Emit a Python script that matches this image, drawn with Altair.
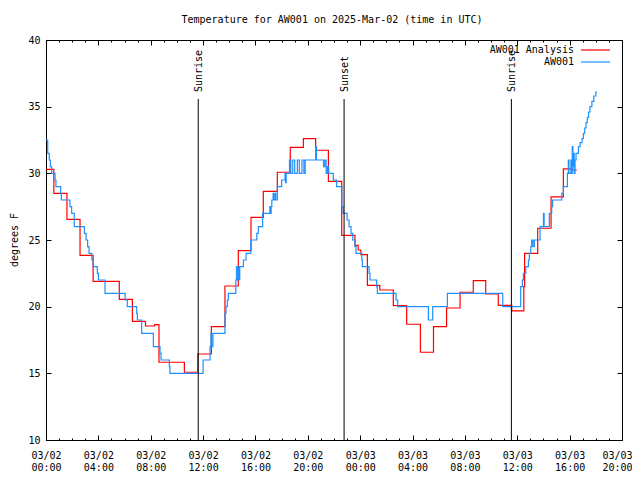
import json
import altair as alt
import pandas as pd

FONT = "DejaVu Sans Mono"
FS = 10
RED = "#ff0000"
BLUE = "#1e90ff"

# ---- data (hours since 2025-03-02 00:00 UTC) ----
red_hours = [0.0, 0.6, 1.6, 2.6, 3.6, 5.6, 6.6, 7.6, 8.3, 8.63, 10.57, 11.6, 12.63, 13.67, 14.69,
             15.66, 16.6, 17.67, 18.66, 19.66, 20.6, 21.57, 22.59, 23.6, 23.85, 24.05, 24.55, 25.5,
             26.53, 27.55, 28.6, 29.6, 30.6, 31.63, 32.64, 33.59, 34.55, 35.58, 36.5, 36.56, 37.56,
             38.58, 39.52, 40.2, 40.55]
red_temps = [30.3, 28.5, 26.55, 23.85, 21.9, 20.55, 18.9, 18.55, 18.65, 15.83, 15.08, 16.45, 18.5,
             21.55, 24.2, 26.7, 28.65, 30.08, 31.95, 32.6, 31.73, 29.4, 25.35, 24.6, 24.25, 23.9,
             21.6, 21.25, 20.08, 18.68, 16.58, 18.5, 19.9, 21.08, 21.95, 20.95, 20.1, 19.68, 21.5,
             24.0, 25.88, 28.23, 30.33, 30.25, 30.25]

blue_hours = [0.0, 0.13, 0.25, 0.33, 0.43, 0.69, 0.76, 1.12, 1.17, 1.83, 1.96, 2.16, 2.93, 3.06,
              3.18, 3.29, 3.5, 3.6, 3.92, 4.0, 4.51, 6.04, 6.21, 6.93, 6.98, 7.31, 8.2, 8.71, 8.79,
              9.42, 9.47, 12.0, 12.53, 12.6, 12.65, 12.75, 13.67, 13.75, 13.85, 13.93, 14.5, 14.55,
              14.6, 14.7, 14.75, 14.8, 15.08, 15.28, 15.64, 16.1, 16.22, 16.55, 17.1, 17.15, 17.2,
              17.25, 17.35, 17.4, 17.5, 17.55, 17.67, 18.0, 18.26, 18.3, 18.35, 18.6, 18.7, 18.85,
              19.0, 19.2, 19.35, 19.55, 19.7, 19.8, 20.6, 20.66, 21.2, 21.3, 21.4,
              21.5, 21.6, 21.95, 22.2, 22.6, 22.7, 23.0, 23.15, 23.3, 23.43, 23.6, 23.68, 24.12,
              24.17, 24.68, 24.75, 25.26, 25.31, 26.74, 26.87, 29.21, 29.54, 30.66, 34.89, 36.26,
              36.39, 36.47, 36.65, 36.85, 36.92, 37.03, 37.1, 37.2, 37.3, 37.74, 38.0, 38.05,
              38.45, 38.63, 38.7, 39.4, 39.52, 39.83, 39.9, 39.95, 40.1, 40.15, 40.2, 40.25, 40.3,
              40.35, 40.41, 40.49, 40.67, 40.8, 40.95, 41.05, 41.15, 41.25, 41.35, 41.45, 41.55,
              41.7, 41.85, 42.0, 42.1]
blue_temps = [32.5, 31.5, 31.0, 30.5, 30.0, 29.5, 29.0, 28.5, 28.0, 27.5, 27.0, 26.0, 25.5, 25.0,
              24.5, 24.0, 23.5, 23.0, 22.5, 22.0, 21.0, 20.5, 20.0, 19.5, 19.0, 18.0, 17.0, 16.5,
              16.0, 15.5, 15.0, 16.0, 17.0, 18.0, 17.0, 18.0, 19.5, 20.0, 20.5, 21.0, 22.0, 23.0,
              22.0, 23.0, 22.0, 23.0, 23.5, 24.0, 25.0, 25.5, 26.0, 27.0, 27.5, 27.0, 27.5,
              28.0, 28.5, 28.0, 28.5, 28.0, 29.0, 29.5, 30.0, 29.3, 30.0, 31.0, 30.0, 31.0,
              30.0, 31.0, 30.0, 31.0, 30.0, 31.0, 32.0, 31.0, 30.5, 31.0, 30.0,
              30.5, 30.0, 29.5, 29.0, 27.5, 27.0, 26.5, 26.0, 25.5, 25.0, 24.5, 24.0, 23.5,
              23.0, 22.5, 22.0, 21.5, 21.0, 20.5, 20.0, 19.0, 20.0, 21.0, 20.0, 21.5,
              22.0, 22.5, 23.0, 23.5, 24.0, 24.5, 25.0, 24.5, 25.0, 26.0, 27.0, 26.0,
              27.0, 27.5, 28.0, 28.5, 29.0, 30.0, 31.0, 30.0, 31.0, 30.0, 32.0, 30.5, 31.5,
              30.0, 31.0, 31.5, 32.0, 32.3, 32.6, 33.0, 33.4, 33.8, 34.2, 34.6, 35.0,
              35.4, 35.8, 36.1, 36.1]

sun_hours = [11.63, 22.77, 35.55]
sun_labels = ["Sunrise", "Sunset", "Sunrise"]

series_names = ["AW001 Analysis", "AW001"]
series_colors = [RED, BLUE]

x_major = list(range(0, 45, 4))
x_minor = list(range(0, 45, 1))
y_major = [10, 15, 20, 25, 30, 35, 40]
tick_dates = ["03/02"] * 6 + ["03/03"] * 6
tick_times = ["00:00", "04:00", "08:00", "12:00", "16:00", "20:00"] * 2

title_text = "Temperature for AW001 on 2025-Mar-02 (time in UTC)"
y_title = "degrees F"

# ---- tables ----
red_df = pd.DataFrame({"hour": red_hours, "temp": red_temps})
blue_df = pd.DataFrame({"hour": blue_hours, "temp": blue_temps})
sun_df = pd.DataFrame({"hour": sun_hours, "label": sun_labels})
one = pd.DataFrame({"k": [0]})

xscale = alt.Scale(domain=[0, 44], nice=False, zero=False)
yscale = alt.Scale(domain=[10, 40], nice=False, zero=False)

label_expr = ("[" + json.dumps(tick_dates) + "[round(datum.value/4)], "
              + json.dumps(tick_times) + "[round(datum.value/4)]]")


def ax(orient, values, size, **kw):
    return alt.Axis(orient=orient, values=values, tickSize=size, offset=-size,
                    grid=False, domain=False, title=None, ticks=True,
                    tickColor="black", tickWidth=1, **kw)


red = alt.Chart(red_df).mark_line(interpolate="step-after", color=RED, strokeWidth=1.2).encode(
    x=alt.X("hour:Q", scale=xscale,
            axis=ax("bottom", x_major, 5, labels=True, labelPadding=10, labelExpr=label_expr,
                    labelLineHeight=12, labelFont=FONT, labelFontSize=FS, labelColor="black",
                    labelFlush=False, labelOverlap=False, labelAlign="center",
                    labelOffset={"condition": {"test": "datum.value >= 44", "value": -5},
                                 "value": 0})),
    y=alt.Y("temp:Q", scale=yscale,
            axis=ax("left", y_major, 5, labels=True, labelPadding=6, labelFlush=False,
                    labelFont=FONT, labelFontSize=FS, labelColor="black")),
)

blue = alt.Chart(blue_df).mark_line(interpolate="step-after", color=BLUE, strokeWidth=1.2).encode(
    x=alt.X("hour:Q", scale=xscale, axis=ax("bottom", x_minor, 2, labels=False)),
    y=alt.Y("temp:Q", scale=yscale, axis=ax("right", y_major, 5, labels=False)),
)

sun_rule = alt.Chart(sun_df).mark_rule(color="black", strokeWidth=1).encode(
    x=alt.X("hour:Q", scale=xscale, axis=ax("top", x_major, 5, labels=False)),
    y=alt.value(59),
    y2=alt.value(400),
)

sun_text = alt.Chart(sun_df).mark_text(angle=270, align="left", baseline="middle",
                                       font=FONT, fontSize=FS, color="black", dy=1).encode(
    x=alt.X("hour:Q", scale=xscale, axis=ax("top", x_minor, 2, labels=False)),
    y=alt.value(52),
    text="label:N",
)

title = alt.Chart(one).mark_text(text=title_text, align="center", baseline="middle",
                                 font=FONT, fontSize=FS, color="black").encode(
    x=alt.value(286), y=alt.value(-20))

ytitle = alt.Chart(one).mark_text(text=y_title, angle=270, align="center", baseline="middle",
                                  font=FONT, fontSize=FS, color="black").encode(
    x=alt.value(-31), y=alt.value(200))

legend_layers = []
for i, (name, col) in enumerate(zip(series_names, series_colors)):
    yy = 10 + 12 * i
    legend_layers.append(
        alt.Chart(one).mark_text(text=name, align="right", baseline="middle",
                                 font=FONT, fontSize=FS, color="black").encode(
            x=alt.value(528), y=alt.value(yy)))
    legend_layers.append(
        alt.Chart(one).mark_rule(color=col, strokeWidth=1.2).encode(
            x=alt.value(535), x2=alt.value(564), y=alt.value(yy)))

chart = alt.layer(red, blue, sun_rule, sun_text, title, ytitle, *legend_layers).resolve_axis(
    x="independent", y="independent"
).properties(
    width=576, height=400,
    autosize=alt.AutoSizeParams(type="none"),
    padding={"left": 38, "top": 32, "right": 10, "bottom": 32},
    background="white",
).configure_view(stroke="black", strokeWidth=1)

chart.save("out.html", embed_options={"renderer": "svg", "actions": False})
